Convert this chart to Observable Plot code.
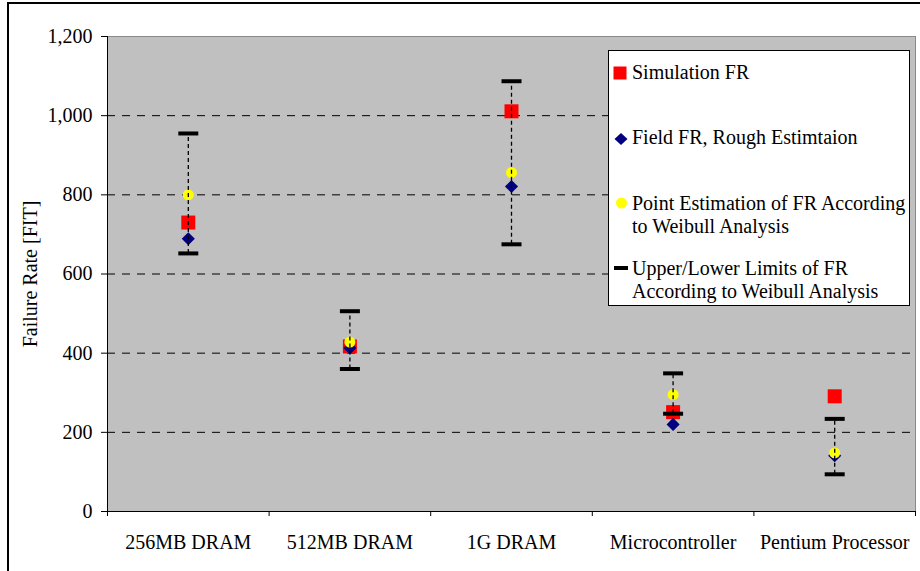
<!DOCTYPE html>
<html><head><meta charset="utf-8">
<script src="https://cdn.jsdelivr.net/npm/d3@7"></script>
<script src="https://cdn.jsdelivr.net/npm/@observablehq/plot@0.6"></script>
<style>
body{margin:0;background:#fff;}
#wrap{position:relative;width:920px;height:571px;overflow:hidden;font-family:"Liberation Serif","Times New Roman",serif;}
#chart{position:absolute;left:0;top:0;}
#border{position:absolute;left:7px;top:2px;width:940px;height:600px;border:2px solid #000;pointer-events:none;}
#legend{position:absolute;left:608px;top:50px;width:302px;height:256px;background:#fff;border:1px solid #000;box-sizing:border-box;font-size:20px;line-height:23px;color:#000;}
.item{position:absolute;left:23px;white-space:nowrap;}
.sw{position:absolute;left:3px;line-height:0;}
</style>
</head><body>
<div id="wrap">
  <div id="chart"></div>
  <div id="border"></div>
  <div id="legend"></div>
</div>
<script>
const categories = ["256MB DRAM", "512MB DRAM", "1G DRAM", "Microcontroller", "Pentium Processor"];
const simulation   = [730, 417, 1011, 251, 291];
const field        = [689, 413, 821, 220, 141];
const weibullPoint = [800, 428, 856, 295, 148];
const upper        = [955, 506, 1087, 349, 234];
const lower        = [652, 360, 675, 247, 94];
const yTicks = [0, 200, 400, 600, 800, 1000, 1200];
const legendLabels = [
  "Simulation FR",
  "Field FR, Rough Estimtaion",
  "Point Estimation of FR According<br>to Weibull Analysis",
  "Upper/Lower Limits of FR<br>According to Weibull Analysis"
];

const rows = categories.map((c, i) => ({i, c, sim: simulation[i], field: field[i], point: weibullPoint[i], upper: upper[i], lower: lower[i]}));
const pos = d => d.i + 0.5;
const capSymbol = {draw(ctx) { ctx.rect(-10, -2, 20, 4); }};

const chart = Plot.plot({
  width: 920, height: 571,
  marginLeft: 107, marginRight: 5, marginTop: 36, marginBottom: 60,
  style: {fontFamily: "Liberation Serif", fontSize: "20px", color: "#000", background: "transparent"},
  x: {domain: [0, categories.length]},
  y: {domain: [0, 1200]},
  marks: [
    Plot.frame({fill: "#c0c0c0", stroke: "#8a8a8a"}),
    Plot.ruleY(yTicks.slice(1, -1), {stroke: "#000", strokeDasharray: "8,7", strokeWidth: 1}),
    Plot.ruleY([0], {stroke: "#000"}),
    Plot.ruleX([0], {stroke: "#000"}),
    Plot.axisY({ticks: yTicks, tickFormat: d3.format(","), tickSize: 6, tickPadding: 9,
      label: "Failure Rate [FIT]", labelAnchor: "center", labelArrow: "none", labelOffset: 85}),
    Plot.axisX({ticks: d3.range(categories.length + 1), tickSize: 5, tickFormat: () => "", label: null}),
    Plot.axisX({ticks: categories.map((c, i) => i + 0.5), tickSize: 0, tickPadding: 23,
      tickFormat: v => categories[Math.floor(v)], label: null}),
    Plot.dot(rows, {x: pos, y: "sim", symbol: "square", r: 7.9, fill: "#ff0000"}),
    Plot.dot(rows, {x: pos, y: "field", symbol: "diamond2", r: 5.9, fill: "#000080"}),
    Plot.dot(rows, {x: pos, y: "point", symbol: "circle", r: 5.5, fill: "#ffff00"}),
    Plot.dot(rows, {x: pos, y: "upper", symbol: capSymbol, fill: "#000"}),
    Plot.dot(rows, {x: pos, y: "lower", symbol: capSymbol, fill: "#000"}),
    Plot.ruleX(rows, {x: pos, y1: "lower", y2: "upper", stroke: "#000", strokeDasharray: "4,3", strokeWidth: 1.3})
  ]
});
document.getElementById("chart").appendChild(chart);

// Legend
const swatches = [
  '<svg width="16" height="16"><rect x="1.5" y="1.5" width="13" height="13" fill="#ff0000"/></svg>',
  '<svg width="16" height="16"><path d="M9 2 L15.5 8 L9 14 L2.5 8 Z" fill="#000080"/></svg>',
  '<svg width="16" height="16"><circle cx="9.5" cy="8" r="5.5" fill="#ffff00"/></svg>',
  '<svg width="16" height="16"><rect x="2" y="6" width="14" height="4" fill="#000"/></svg>'
];
const itemTops = [10, 75, 141, 206];
const swatchCenters = [12, 13, 10.5, 11.3];
const legend = document.getElementById("legend");
legendLabels.forEach((lab, k) => {
  const sw = document.createElement("div");
  sw.className = "sw";
  sw.style.top = (itemTops[k] + swatchCenters[k] - 8) + "px";
  sw.innerHTML = swatches[k];
  legend.appendChild(sw);
  const it = document.createElement("div");
  it.className = "item";
  it.style.top = itemTops[k] + "px";
  it.innerHTML = lab;
  legend.appendChild(it);
});
</script>
</body></html>
